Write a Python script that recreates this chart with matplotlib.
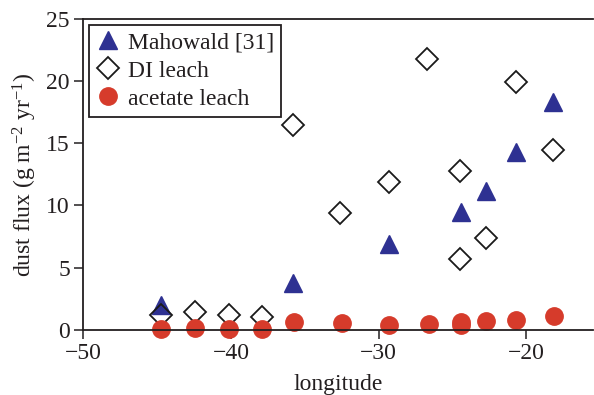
import numpy as np
import matplotlib
matplotlib.use('Agg')
import matplotlib.pyplot as plt

plt.rcParams['font.family'] = ['Liberation Serif', 'DejaVu Serif']
plt.rcParams['mathtext.fontset'] = 'custom'
plt.rcParams['mathtext.rm'] = 'Liberation Serif'
plt.rcParams['mathtext.it'] = 'Liberation Serif:italic'

# Mahowald [31]
maho_lon = [-44.7, -35.8, -29.3, -24.4, -22.7, -20.7, -18.2]
maho_flux = [2.0, 3.8, 6.9, 9.5, 11.2, 14.3, 18.3]

# DI leach
di_lon = [-44.7, -42.4, -40.1, -37.9, -35.8, -32.6, -29.3, -26.7,
          -24.5, -24.5, -22.7, -20.7, -18.2]
di_flux = [1.2, 1.4, 1.2, 1.0, 16.5, 9.4, 11.9, 21.8,
           12.8, 5.7, 7.4, 19.9, 14.5]

# acetate leach
ac_lon = [-44.7, -42.4, -40.1, -37.9, -35.7, -32.5, -29.3, -26.6,
          -24.4, -24.4, -22.7, -20.7, -18.1]
ac_flux = [0.05, 0.15, 0.1, 0.1, 0.6, 0.55, 0.4, 0.45,
           0.6, 0.35, 0.7, 0.75, 1.1]

text_col = '#231f20'
blue = '#2e3192'
red = '#d63b2b'
fs = 17

fig = plt.figure(figsize=(5.94, 3.95), dpi=100)
ax = fig.add_axes([0.14, 0.165, 0.858, 0.787])

ax.plot(maho_lon, maho_flux, linestyle='none', marker='^', markersize=13.5,
        color=blue, markeredgecolor=blue, label='Mahowald [31]', clip_on=False)
ax.plot(di_lon, di_flux, linestyle='none', marker='D', markersize=11.5,
        markerfacecolor='none', markeredgecolor='#1a1a1a', markeredgewidth=1.3,
        label='DI leach', clip_on=False)
ax.plot(ac_lon, ac_flux, linestyle='none', marker='o', markersize=12.5,
        color=red, markeredgecolor=red, label='acetate leach', clip_on=False)

ax.set_xlim(-50, -15.5)
ax.set_ylim(0, 25)
ax.set_xticks([-50, -40, -30, -20])
ax.set_yticks([0, 5, 10, 15, 20, 25])

ax.spines['right'].set_visible(False)
for side in ['left', 'bottom', 'top']:
    ax.spines[side].set_color(text_col)
    ax.spines[side].set_linewidth(1.3)

ax.tick_params(direction='out', length=6.5, width=1.1, colors=text_col,
               labelsize=fs, top=False, right=False, pad=3)

ax.set_xlabel('longitude', fontsize=fs, color=text_col, labelpad=7)
ax.set_ylabel('dust flux (g m$^{-2}$ yr$^{-1}$)', fontsize=fs,
              color=text_col, labelpad=5)

leg = ax.legend(loc='upper left', numpoints=1, fontsize=fs, handlelength=1.0,
                handletextpad=0.35, borderpad=0.3, labelspacing=0.28,
                fancybox=False, framealpha=1, borderaxespad=0.25)
leg.get_frame().set_edgecolor(text_col)
leg.get_frame().set_linewidth(1.3)
for t in leg.get_texts():
    t.set_color(text_col)

fig.savefig('out.png', dpi=100)
